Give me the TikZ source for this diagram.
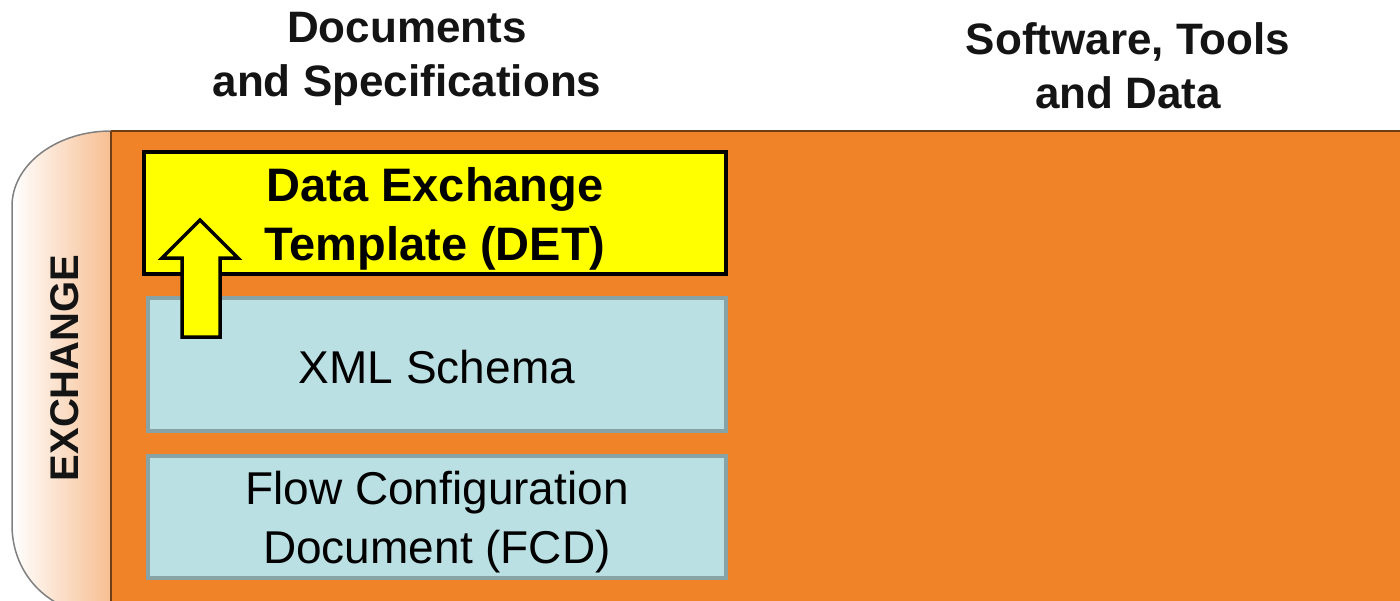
\documentclass[tikz,border=0pt]{standalone}
\usepackage{fontspec}
\setmainfont{Liberation Sans}
\definecolor{orangebg}{RGB}{240,130,40}
\definecolor{orangeedge}{RGB}{110,62,22}
\definecolor{tabright}{RGB}{247,190,145}
\definecolor{tabedge}{RGB}{128,128,128}
\definecolor{boxfill}{RGB}{186,224,227}
\definecolor{boxedge}{RGB}{135,163,165}
\definecolor{detfill}{RGB}{255,255,0}
\definecolor{hdr}{RGB}{20,20,20}
\tikzset{
  hdrtext/.style={font=\fontsize{44}{54}\selectfont\bfseries, text=hdr, align=center, inner sep=0pt},
  bluebox/.style={draw=boxedge, line width=4pt, fill=boxfill, minimum width=578pt, minimum height=133pt, inner sep=0pt},
  detbox/.style={draw=black, line width=4pt, fill=detfill, minimum width=582pt, minimum height=122pt, inner sep=0pt},
  boxtext/.style={inner sep=0pt, align=center, font=\fontsize{46}{59}\selectfont},
  dettext/.style={inner sep=0pt, align=center, font=\fontsize{47}{59}\selectfont\bfseries},
  blockarrow/.style={draw=black, line width=3.5pt, fill=detfill, line join=miter},
}
\begin{document}
\begin{tikzpicture}[x=1pt,y=-1pt]
\useasboundingbox (0,0) rectangle (1400,600);
\begin{scope}
\clip (0,0) rectangle (1400,600);
% orange main panel
\fill[orangebg] (111,131) rectangle (1402,602);
\draw[orangeedge, line width=2pt] (111,131) -- (1402,131);
% left tab
\shade[left color=white, right color=tabright]
  (111,131) .. controls (56,131) and (12,165) .. (12,206)
  -- (12,525) .. controls (12,575) and (50,615) .. (105,615) -- (111,615) -- cycle;
\draw[tabedge, line width=1.5pt]
  (111,131) .. controls (56,131) and (12,165) .. (12,206)
  -- (12,525) .. controls (12,575) and (50,615) .. (105,615);
\draw[orangeedge, line width=1.5pt] (111,131) -- (111,602);
\end{scope}
% headers
\node[hdrtext] (hdocs) at (407,59) {Documents\\and Specifications};
\node[hdrtext] (hsoft) at (1128,66) {Software, Tools\\and Data};
% tab label
\node[font=\fontsize{40}{48}\selectfont\bfseries, text=hdr, rotate=90, inner sep=0pt] (exch) at (65,368) {EXCHANGE};
% boxes
\node[detbox] (det) at (435,213) {};
\node[dettext] (detlabel) at ([yshift=-6pt]det.center) {Data Exchange\\Template (DET)};
\node[bluebox] (xml) at (437,364.5) {};
\node[boxtext] (xmllabel) at ([yshift=-3pt]xml.center) {XML Schema};
\node[bluebox, minimum height=122pt] (fcd) at (437,517) {};
\node[boxtext] (fcdlabel) at ([yshift=-5pt]fcd.center) {Flow Configuration\\Document (FCD)};
% block arrow
\draw[blockarrow] (182,337) -- (182,258) -- (162,258) -- (200,220) -- (238,258) -- (220,258) -- (220,337) -- cycle;
\end{tikzpicture}
\end{document}
